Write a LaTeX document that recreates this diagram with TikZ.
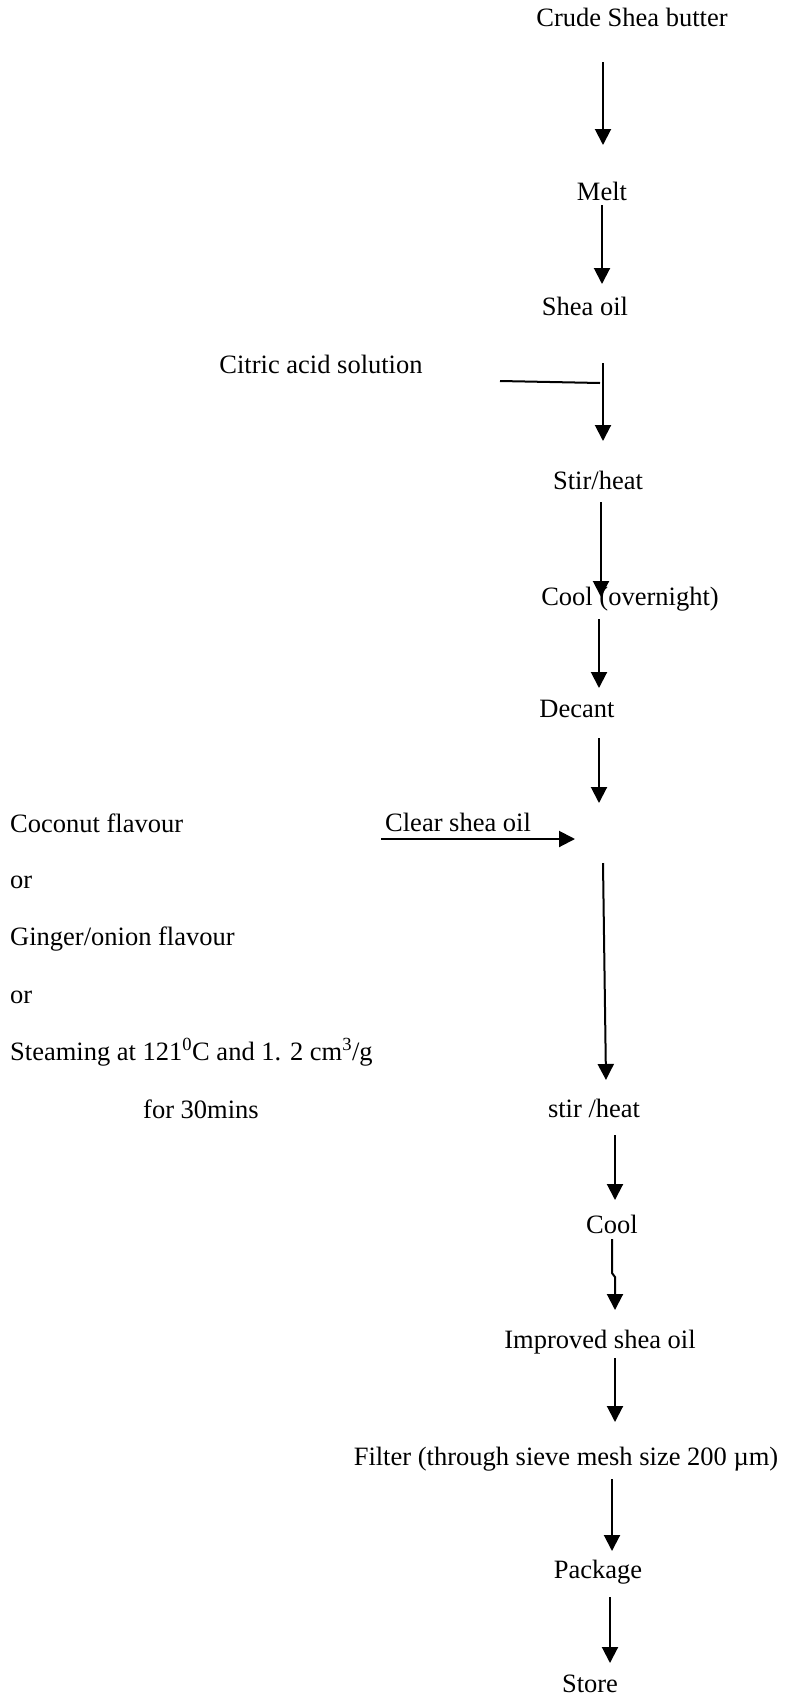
\documentclass[tikz,border=0pt]{standalone}
\usepackage{fontspec}
\setmainfont{Liberation Serif}
\usetikzlibrary{arrows.meta}

\begin{document}
\begin{tikzpicture}[x=1pt, y=-1pt,
    stage/.style={anchor=base, inner sep=0pt, font=\fontsize{26.5}{32}\selectfont},
    sidetext/.style={stage, anchor=base west},
    flow/.style={-{Triangle[width=16pt,length=16pt]}, line width=2pt}]
    % Page frame
    \useasboundingbox (0,0) rectangle (786,1697);

    % Main process steps
    \node[stage] (crude) at (632,27) {Crude Shea butter};
    \node[stage] (melt) at (602,200) {Melt};
    \node[stage] (sheaoil) at (585,315) {Shea oil};
    \node[stage] (citric) at (321,373) {Citric acid solution};
    \node[stage] (stirheat) at (598,489) {Stir/heat};
    \node[stage] (coolnight) at (630,605) {Cool (overnight)};
    \node[stage] (decant) at (577,717) {Decant};
    \node[sidetext] (clearoil) at (385,831) {Clear shea oil};
    \node[stage] (stirheattwo) at (594,1117) {stir /heat};
    \node[stage] (cool) at (612,1233) {Cool};
    \node[stage] (improved) at (600,1348) {Improved shea oil};
    \node[stage] (filter) at (566,1465) {Filter (through sieve mesh size 200 µm)};
    \node[stage] (package) at (598,1578) {Package};
    \node[stage] (store) at (590,1692) {Store};

    % Flavour options on the left
    \node[sidetext] (coconut) at (10,832) {Coconut flavour};
    \node[sidetext] (orone) at (10,888) {or};
    \node[sidetext] (ginger) at (10,945) {Ginger/onion flavour};
    \node[sidetext] (ortwo) at (10,1003) {or};
    \node[sidetext] (steaming) at (10,1060) {Steaming at 121\textsuperscript{0}C and 1. 2 cm\textsuperscript{3}/g};
    \node[sidetext] (thirtymin) at (143,1118) {for 30mins};

    % Straight down arrows between the steps
    \foreach \name/\xa/\ya/\xb/\yb in {
        crude/603/62/603/145, melt/602/205/602/284, citric/603/363/603/441,
        stirheat/601/502/601/597, coolnight/599/619/599/688,
        decant/599/738/599/803, clearoil/603/863/606/1080,
        stirheattwo/615/1135/615/1200, improved/615/1358/615/1422,
        filter/612/1479/612/1551, package/610/1597/610/1663} {
        \coordinate (\name-from) at (\xa,\ya);
        \coordinate (\name-to) at (\xb,\yb);
        \draw[flow] (\name-from) -- (\name-to);
    }

    % Citric acid feed line
    \coordinate (citric-in) at (500,381);
    \coordinate (citric-join) at (600,383);
    \draw[line width=2pt] (citric-in) -- (citric-join);

    % Clear shea oil feed arrow
    \coordinate (clear-in) at (381,839);
    \coordinate (clear-out) at (575,839);
    \draw[flow] (clear-in) -- (clear-out);

    % Arrow below Cool with its small kink
    \coordinate (cool-from) at (612,1239);
    \coordinate (cool-kink) at (612,1273);
    \coordinate (cool-to) at (615,1310);
    \draw[flow] (cool-from) -- (cool-kink) -- (615,1277) -- (cool-to);
\end{tikzpicture}
\end{document}
